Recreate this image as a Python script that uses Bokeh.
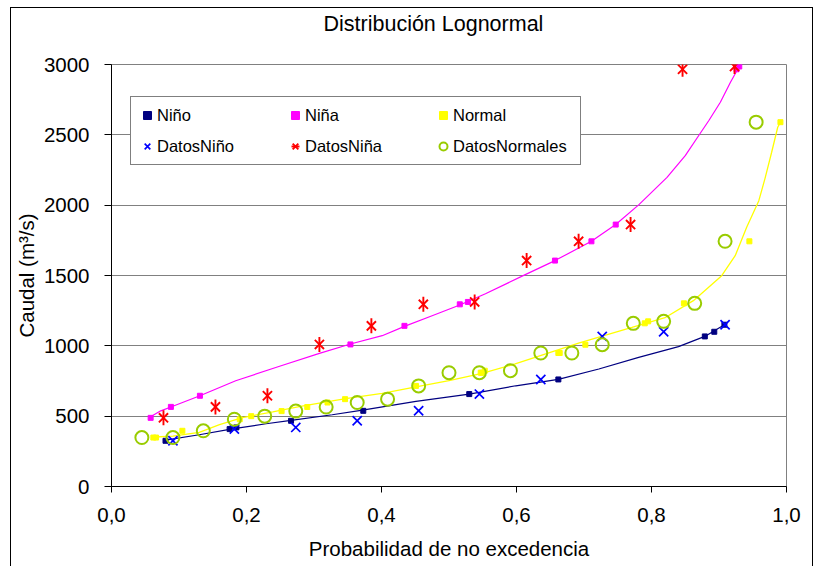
import math
from bokeh.plotting import figure
from bokeh.models import FixedTicker, Legend, LegendItem, Title
from bokeh.embed import file_html
from bokeh.resources import INLINE

FONT = "Liberation Sans"

# ---------------- data ----------------
nino_data_x = [0.091, 0.182, 0.273, 0.364, 0.455, 0.545, 0.636, 0.727, 0.818, 0.909]
nino_data_y = [325, 408, 420, 467, 538, 657, 761, 1067, 1100, 1150]
nino_model_x = [0.080, 0.175, 0.185, 0.266, 0.373, 0.530, 0.662, 0.879, 0.893, 0.908]
nino_model_y = [325, 408, 420, 467, 538, 657, 761, 1067, 1100, 1150]
nino_curve_x = [0.080, 0.130, 0.179, 0.229, 0.266, 0.327, 0.372, 0.451, 0.530, 0.599,
                0.662, 0.722, 0.781, 0.840, 0.879, 0.908]
nino_curve_y = [330, 368, 410, 446, 470, 510, 543, 605, 657, 716,
                761, 835, 918, 994, 1067, 1150]

nina_data_x = [0.077, 0.154, 0.231, 0.308, 0.385, 0.462, 0.538, 0.615, 0.692, 0.769, 0.846, 0.923]
nina_data_y = [488, 566, 645, 1010, 1142, 1295, 1312, 1606, 1743, 1862, 2966, 2986]
nina_model_x = [0.058, 0.088, 0.131, 0.354, 0.434, 0.516, 0.528, 0.657, 0.711, 0.747, 0.926, 0.930]
nina_model_y = [488, 566, 645, 1010, 1142, 1295, 1312, 1606, 1743, 1862, 2966, 2986]
nina_curve_x = [0.056, 0.073, 0.088, 0.131, 0.184, 0.249, 0.308, 0.354, 0.401, 0.434,
                0.475, 0.516, 0.554, 0.613, 0.657, 0.711, 0.747, 0.781, 0.823, 0.850,
                0.870, 0.885, 0.902, 0.917, 0.930]
nina_curve_y = [490, 538, 565, 645, 752, 855, 946, 1013, 1072, 1138,
                1214, 1290, 1370, 1506, 1606, 1743, 1862, 2002, 2198, 2352,
                2495, 2602, 2732, 2874, 2986]

normal_data_x = [0.045, 0.091, 0.136, 0.182, 0.227, 0.273, 0.318, 0.364, 0.409, 0.455, 0.500,
                 0.545, 0.591, 0.636, 0.682, 0.727, 0.773, 0.818, 0.864, 0.909, 0.955]
normal_data_y = [348, 348, 396, 478, 500, 536, 565, 597, 621, 715, 809,
                 809, 823, 949, 949, 1008, 1160, 1174, 1302, 1743, 2590]
normal_model_x = [0.062, 0.066, 0.105, 0.190, 0.207, 0.252, 0.290, 0.320, 0.346, 0.451, 0.547,
                  0.549, 0.553, 0.662, 0.664, 0.702, 0.790, 0.795, 0.848, 0.945, 0.991]
normal_model_y = [348, 348, 396, 478, 500, 536, 565, 597, 621, 715, 809,
                  809, 823, 949, 949, 1008, 1160, 1174, 1302, 1743, 2590]
normal_curve_x = [0.064, 0.091, 0.130, 0.160, 0.194, 0.239, 0.278, 0.327, 0.352, 0.401,
                  0.451, 0.500, 0.549, 0.598, 0.692, 0.771, 0.820, 0.862, 0.904, 0.924,
                  0.941, 0.959, 0.968, 0.978, 0.987, 0.991]
normal_curve_y = [352, 358, 385, 440, 490, 530, 568, 608, 629, 662,
                  709, 752, 805, 871, 1020, 1131, 1200, 1321, 1499, 1641,
                  1843, 2032, 2187, 2376, 2554, 2590]

x_ticks = [0.0, 0.2, 0.4, 0.6, 0.8, 1.0]
x_tick_labels = ["0,0", "0,2", "0,4", "0,6", "0,8", "1,0"]
y_ticks = [0, 500, 1000, 1500, 2000, 2500, 3000]

title_text = "Distribución Lognormal"
x_label = "Probabilidad de no excedencia"
y_label = "Caudal (m³/s)"

# ---------------- figure ----------------
p = figure(output_backend="svg", toolbar_location=None,
           frame_width=675, frame_height=422,
           min_border_left=98, min_border_right=26,
           min_border_top=56, min_border_bottom=80,
           x_range=(0, 1), y_range=(0, 3000),
           background_fill_color="white", border_fill_color="white")
p.styles = {"margin-left": "10px", "margin-top": "7px",
            "border-left": "1px solid black", "border-top": "1px solid black",
            "border-right": "1px solid black"}

p.title.text = title_text
p.title.text_font = FONT
p.title.text_font_size = "21.5px"
p.title.text_font_style = "normal"
p.title.text_color = "black"
p.title.align = "left"
p.title.offset = 212
p.title.standoff = 0

# empty spacer between the title and the plot frame
spacer = Title(text=" ", text_font_size="15px", standoff=10)
p.add_layout(spacer, "above")

p.outline_line_color = "#808080"
p.outline_line_width = 1

p.xgrid.visible = False
p.ygrid.ticker = FixedTicker(ticks=y_ticks)
p.ygrid.grid_line_color = "#808080"
p.ygrid.grid_line_width = 1

for ax in (p.xaxis[0], p.yaxis[0]):
    ax.axis_line_color = "black"
    ax.major_tick_line_color = "black"
    ax.minor_tick_line_color = None
    ax.major_tick_in = 0
    ax.major_label_text_font = FONT
    ax.major_label_text_font_size = "20.5px"
    ax.major_label_text_color = "black"
    ax.axis_label_text_font = FONT
    ax.axis_label_text_font_size = "20.5px"
    ax.axis_label_text_font_style = "normal"
    ax.axis_label_text_color = "black"

p.xaxis.ticker = FixedTicker(ticks=x_ticks)
p.xaxis.major_label_overrides = {t: l for t, l in zip(x_ticks, x_tick_labels)}
p.xaxis.major_tick_out = 6
p.xaxis.major_label_standoff = 15
p.xaxis.axis_label = x_label
p.xaxis.axis_label_standoff = 12

p.yaxis.ticker = FixedTicker(ticks=y_ticks)
p.yaxis.major_tick_out = 7
p.yaxis.major_label_standoff = 15
p.yaxis.axis_label = y_label
p.yaxis.axis_label_standoff = 3

# curves
p.line(nino_curve_x, nino_curve_y, line_color="#000080", line_width=1.2)
p.line(nina_curve_x, nina_curve_y, line_color="#FF00FF", line_width=1.2)
p.line(normal_curve_x, normal_curve_y, line_color="#FFFF00", line_width=1.3)

# model points
r_nino_m = p.scatter(nino_model_x, nino_model_y, marker="square", size=5,
                     fill_color="#000080", line_color="#000080")
r_nina_m = p.scatter(nina_model_x, nina_model_y, marker="square", size=5,
                     fill_color="#FF00FF", line_color="#FF00FF")
r_norm_m = p.scatter(normal_model_x, normal_model_y, marker="square", size=5,
                     fill_color="#FFFF00", line_color="#FFFF00")

# data points
r_nino_d = p.scatter(nino_data_x, nino_data_y, marker="x", size=13,
                     line_color="#0000FF", line_width=1.7)
r_nina_d1 = p.scatter(nina_data_x, nina_data_y, marker="x", size=13,
                      line_color="#FF0000", line_width=1.9)
r_nina_d2 = p.scatter(nina_data_x, nina_data_y, marker="dash", size=15, angle=math.pi / 2,
                      line_color="#FF0000", line_width=1.9)
r_norm_d = p.scatter(normal_data_x, normal_data_y, marker="circle", size=13,
                     fill_color=None, line_color="#99CC00", line_width=2)

legend = Legend(items=[
    LegendItem(label="Niño", renderers=[r_nino_m]),
    LegendItem(label="Niña", renderers=[r_nina_m]),
    LegendItem(label="Normal", renderers=[r_norm_m]),
    LegendItem(label="DatosNiño", renderers=[r_nino_d]),
    LegendItem(label="DatosNiña", renderers=[r_nina_d1, r_nina_d2]),
    LegendItem(label="DatosNormales", renderers=[r_norm_d]),
], location=(19, 321), orientation="horizontal", ncols=3)
legend.label_text_font = FONT
legend.label_text_font_size = "16.5px"
legend.label_text_color = "black"
legend.glyph_width = 20
legend.glyph_height = 24
legend.label_standoff = 0
legend.label_width = 121
legend.spacing = 7
legend.padding = 6
legend.margin = 0
legend.border_line_color = "black"
legend.border_line_width = 1
legend.background_fill_color = "white"
legend.background_fill_alpha = 1
p.add_layout(legend)

open("out.html", "w").write(file_html(p, INLINE))
